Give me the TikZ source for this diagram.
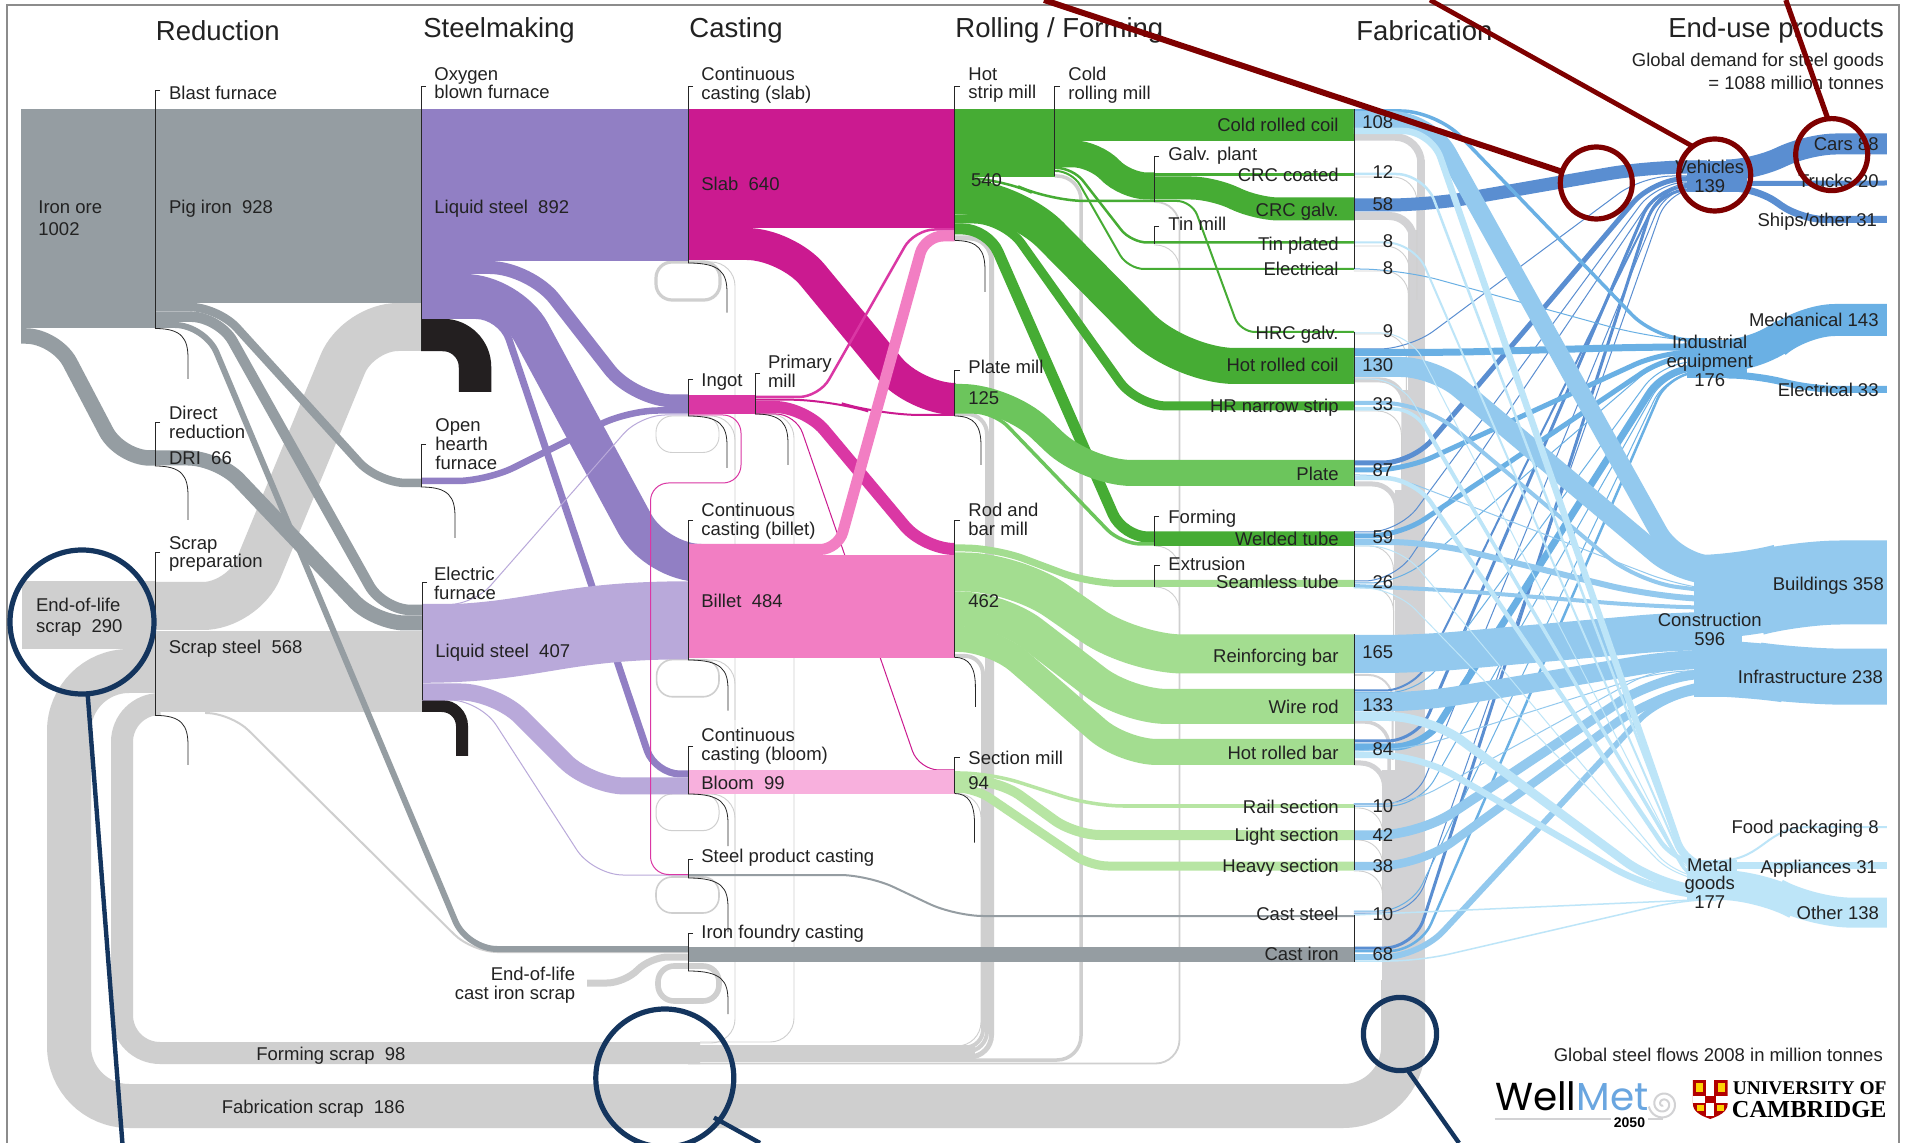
\documentclass[tikz,border=0pt]{standalone}
\usepackage{fontspec}
\setmainfont{Liberation Sans}
\newfontfamily\wmfont{Poppins}
\newfontfamily\camfont{Liberation Serif}
\definecolor{frm}{HTML}{8C8C8C}
\definecolor{gy}{HTML}{959DA2}
\definecolor{scr}{HTML}{CFCFCF}
\definecolor{vrt}{HTML}{D2D2D4}
\definecolor{pu}{HTML}{917FC4}
\definecolor{lpu}{HTML}{B9A9DA}
\definecolor{slb}{HTML}{CB1A90}
\definecolor{ing}{HTML}{DA37A4}
\definecolor{bil}{HTML}{F27EC3}
\definecolor{blm}{HTML}{F8B0DD}
\definecolor{hot}{HTML}{46AC34}
\definecolor{plt}{HTML}{6CC55C}
\definecolor{rod}{HTML}{A3DD90}
\definecolor{sec}{HTML}{B7E5A3}
\definecolor{vc}{HTML}{5A8ED1}
\definecolor{ic}{HTML}{6AB0E4}
\definecolor{cc}{HTML}{93C9EE}
\definecolor{mc}{HTML}{BDE5F8}
\definecolor{blk}{HTML}{231F20}
\definecolor{txt}{HTML}{222222}
\definecolor{redc}{HTML}{7E0000}
\definecolor{nav}{HTML}{14355E}
\newcommand\sstr{\rule[-1.9pt]{0pt}{7.5pt}}
\newcommand\Fl[4]{\draw[draw=#1,line width=#2*0.5pt,rounded corners=#3*0.5pt] #4;}
\newcommand\Bk[3]{\fill[#1] #2 rectangle #3;}
\newcommand\Br[3]{\draw[brk] (#1+5,#2)--(#1,#2)--(#1,#3);}
\newcommand\Cv[4]{\draw[brk] (#1,#2) .. controls (#3-6,#2) and (#3,#2+10) .. (#3,#2+30) -- (#3,#4);}
\newcommand\Lw[4]{\node[lbl,anchor=west,align=left] (#1) at (#2,#3) {#4};}
\newcommand\Le[4]{\node[lbl,anchor=east,align=right] (#1) at (#2,#3) {#4};}
\newcommand\Lc[4]{\node[lbl,anchor=center,align=center] (#1) at (#2,#3) {#4};}
\newcommand\Ti[3]{\node[ttl,anchor=west] (#1) at (#2,30.5) {#3};}
\begin{document}
\begin{tikzpicture}[x=0.5pt,y=-0.5pt,
  brk/.style={draw=black!85,line width=0.4pt},
  lbl/.style={inner sep=0pt,text=txt,yshift=-1.0pt,font=\fontsize{9.25}{9.4}\selectfont},
  ttl/.style={inner sep=0pt,text=txt,font=\fontsize{13.75}{16}\selectfont},
  loopbox/.style={draw=scr,rounded corners=8pt},
  thinscr/.style={draw=scr,line width=0.45pt,rounded corners=12pt},
  rightpart/.style={xshift=5.83pt,xscale=0.9913}]
\useasboundingbox (0,0) rectangle (1906,1143);
\clip (0,0) rectangle (1906,1143);
\fill[white] (0,0) rectangle (1906,1143);
% frame
\draw[frm,line width=1.2pt] (6.7,1143)--(6.7,5)--(1899,5)--(1899,1143);
% --- scrap streams
\Fl{scr}{44}{60}{(155,671)--(69,671)--(69,1106)--(1403.2,1106)--(1403.2,980)}
\Fl{scr}{22}{38}{(155,704)--(122,704)--(122,1053)--(700,1053)}
\Bk{scr}{(688,1044.7)}{(975,1059)}
\begin{scope}[rightpart]
\Bk{vrt}{(1382,770)}{(1425.6,990)}
\Bk{vrt}{(1395,490)}{(1425.6,780)}
\Bk{vrt}{(1403.7,390)}{(1425.6,500)}
\Bk{vrt}{(1409,230)}{(1425.6,400)}
\Bk{vrt}{(1418,160)}{(1425.6,240)}
\Fl{vrt}{7.5}{26}{(1354,137)--(1421.8,137)--(1421.8,300)}
\Fl{vrt}{8}{24}{(1354,216)--(1414,216)--(1414,300)}
\Fl{vrt}{5}{24}{(1354,380)--(1404.5,380)--(1404.5,500)}
\Fl{vrt}{5}{24}{(1354,484)--(1397,484)--(1397,600)}
\Fl{vrt}{2}{24}{(1354,675)--(1393,675)--(1393,760)}
\Fl{vrt}{3.5}{24}{(1354,722)--(1389.5,722)--(1389.5,800)}
\Fl{vrt}{5}{24}{(1354,763)--(1385,763)--(1385,850)}
\draw[thinscr] (1354,177)--(1417.5,177)--(1417.5,300);
\draw[thinscr] (1354,246)--(1410,246)--(1410,320);
\draw[thinscr] (1354,271)--(1409,271)--(1409,340);
\draw[thinscr] (1354,334)--(1407,334)--(1407,400);
\draw[thinscr] (1354,411)--(1402,411)--(1402,480);
\draw[thinscr] (1354,546)--(1394,546)--(1394,620);
\draw[thinscr] (1354,587)--(1394,587)--(1394,660);
\draw[thinscr] (1354,808)--(1383,808)--(1383,860);
\draw[thinscr] (1354,840)--(1383,840)--(1383,890);
\draw[thinscr] (1354,871)--(1383,871)--(1383,920);
\end{scope}
% rolling scrap verticals
\Fl{scr}{5}{22}{(954.5,238)--(991.5,238)--(991.5,1057)--(688,1057)}
\Fl{scr}{4}{20}{(954.5,414)--(987,414)--(987,1051.5)--(688,1051.5)}
\Fl{scr}{4}{18}{(954.5,656)--(983,656)--(983,1047.5)--(688,1047.5)}
\draw[thinscr] (954.5,793.5)--(981,793.5)--(981,1046)--(688,1046);
\Fl{scr}{3.5}{24}{(1054.6,176)--(1081,176)--(1081,1060)--(688,1060)}
\draw[thinscr,line width=0.9pt] (1154,202)--(1179.5,202)--(1179.5,1063.5)--(688,1063.5);
\draw[thinscr] (1154,245)--(1179.5,245)--(1179.5,300);
\draw[thinscr] (1154,546)--(1179.5,546)--(1179.5,620);
\draw[thinscr] (1154,587)--(1179.5,587)--(1179.5,660);
% casting scrap lines
\draw[thinscr] (688,262)--(735,262)--(735,1043)--(688,1043);
\draw[thinscr] (688,660)--(735,660)--(735,720);
\draw[thinscr] (688,794)--(735,794)--(735,850);
\draw[thinscr] (688,416)--(735,416)--(735,470);
\draw[thinscr] (755,414)--(794,414)--(794,1042)--(700,1042);
% loops
\draw[loopbox,line width=1.6pt] (656,262) rectangle (720,300);
\draw[loopbox,line width=0.45pt] (656,416) rectangle (719,452.5);
\draw[loopbox,line width=0.8pt] (656.6,659.6) rectangle (719,696.8);
\draw[loopbox,line width=0.5pt] (656,794) rectangle (719,830.6);
\draw[loopbox,line width=0.8pt] (656,877) rectangle (719,913);
\draw[loopbox,line width=2.8pt] (658,966) rectangle (719,1001);
% scrap preparation
\Bk{scr}{(22,581)}{(155,649)}
\Bk{scr}{(155,630.6)}{(422,712)}
\Fl{scr}{48}{40}{(120,606)--(243,606)--(358,327)--(421,327)}
\Fl{scr}{7}{18}{(587,983)--(625,983)--(650,957)--(688,957)}
\Fl{scr}{2}{25}{(205,713)--(231,713)--(472,952)--(688,952)}
% --- reduction
\Bk{gy}{(21,109)}{(155,328.5)}
\Bk{gy}{(155,109)}{(421,303)}
\Fl{gy}{15.5}{30}{(21,336)--(56,336)--(120,458)--(155,458)}
\Fl{gy}{8.5}{28}{(155,307)--(218,307)--(378,483)--(421,483)}
\Fl{gy}{10.5}{28}{(155,316.7)--(219,316.7)--(383,610)--(422,610)}
\Fl{gy}{6}{30}{(155,325)--(205,325)--(467,949)--(688,949)}
\Fl{gy}{15}{30}{(155,458)--(218,458)--(375,623)--(422,623)}
\Fl{gy}{2}{28}{(688,875)--(868,875)--(955,916)--(1354,916)}
% --- steelmaking
\Bk{pu}{(421,109)}{(688,261)}
\Fl{blk}{32.5}{32}{(421,335)--(475,335)--(475,392)}
\Fl{blk}{12}{20}{(422,706)--(462,706)--(462,756)}
\Fl{pu}{13}{40}{(421,267.5)--(530,267.5)--(634,401)--(688,401)}
\Fl{pu}{38}{45}{(421,293)--(510,293)--(656,563)--(688,563)}
\Fl{pu}{7}{25}{(421,315.5)--(501,315.5)--(655,774)--(688,774)}
\Fl{pu}{6.5}{30}{(421,481)--(487,481)--(628,410.5)--(688,410.5)}
\draw[lpu,line width=39pt] (422,643.8) .. controls (535,643.8) and (555,620.3) .. (688,620.3);
\Fl{lpu}{17}{35}{(422,692)--(496,692)--(590,786)--(688,786)}
\Fl{lpu}{1}{25}{(422,604.5)--(474,604.5)--(640,415)--(688,415)}
\Fl{lpu}{1}{30}{(422,700)--(480,700)--(593,875)--(688,875)}
% --- casting
\Bk{slb}{(688,109)}{(954.5,228)}
\Fl{slb}{32}{40}{(688,244)--(787,244)--(915,399)--(954.5,399)}
\Bk{ing}{(688,395)}{(755,414.5)}
\Fl{slb}{2}{40}{(755,399.7)--(830,399.7)--(880,415)--(954.5,415)}
\Fl{ing}{12}{30}{(755,407)--(805,407)--(924,549)--(954.5,549)}
\Fl{ing}{2.5}{20}{(755,397)--(819,397)--(914.5,229.5)--(954.5,229.5)}
\Fl{ing}{1}{18}{(688,415)--(741,415)--(741,483)--(650.5,483)--(650.5,874.5)--(688,874.5)}
\Fl{slb}{1}{20}{(755,414)--(796,414)--(919,770)--(954.5,770)}
\Bk{bil}{(688,555)}{(954.5,658)}
\Fl{bil}{11}{18}{(688,549.5)--(838,549.5)--(925,236)--(954.5,236)}
\Bk{blm}{(688,770)}{(954.5,794)}
\Bk{gy}{(688,946.6)}{(1354,962)}
% --- rolling
\Bk{hot}{(954.5,109)}{(1054.6,177)}
\Bk{hot}{(1054.6,109)}{(1354,140.6)}
\Fl{hot}{27}{22}{(1054.6,153.8)--(1095,153.8)--(1125,186)--(1154,186)}
\Fl{hot}{3.5}{10}{(1154,174.5)--(1354,174.5)}
\Fl{hot}{23}{24}{(1150,188)--(1215,188)--(1255,209)--(1354,209)}
\Fl{hot}{2.5}{16}{(1054.6,168)--(1073,168)--(1131,242.5)--(1354,242.5)}
\Fl{hot}{2}{16}{(1054.6,171)--(1072,171)--(1128,269)--(1354,269)}
\Fl{hot}{2.5}{35}{(954.5,178)--(1000,178)--(1050,201)--(1154,201)}
\Fl{hot}{2}{15}{(1154,201)--(1192,201)--(1240,332)--(1354,332)}
\Fl{hot}{36}{55}{(954.5,196)--(1012,196)--(1180,366)--(1354,366)}
\Fl{hot}{9}{30}{(954.5,219)--(1004,219)--(1137,406)--(1354,406)}
\Fl{hot}{11}{25}{(954.5,229)--(988,229)--(1123,537)--(1354,537)}
\Bk{hot}{(1154,531.6)}{(1354,546)}
\Fl{plt}{26}{45}{(954.5,397)--(1007,397)--(1087,473)--(1354,473)}
\Fl{plt}{3.5}{20}{(954.5,412)--(994,412)--(1121,544)--(1154,544)}
\Fl{rod}{7}{30}{(954.5,548)--(995,548)--(1090,583.5)--(1354,583.5)}
\Fl{rod}{39}{50}{(954.5,572)--(1015,572)--(1133,654)--(1354,654)}
\Fl{rod}{35}{40}{(954.5,609)--(1000,609)--(1127,706.5)--(1354,706.5)}
\Fl{rod}{26}{34}{(954.5,639)--(993,639)--(1123,752)--(1354,752)}
\Bk{sec}{(954.5,772)}{(972,793.5)}
\Fl{sec}{3.5}{30}{(954.5,773)--(990,773)--(1093,806)--(1354,806)}
\Fl{sec}{10}{25}{(954.5,781)--(1000,781)--(1075,835)--(1354,835)}
\Fl{sec}{9}{18}{(954.5,788)--(975,788)--(1090,866)--(1354,866)}
\begin{scope}[rightpart]
% --- vehicles
\Fl{vc}{13}{40}{(1354,205)--(1430,205)--(1650,167)--(1710,167)}
\Fl{vc}{1}{30}{(1354,349)--(1410,349)--(1645,176)--(1710,176)}
\Fl{vc}{5}{30}{(1354,463)--(1413,463)--(1655,180)--(1710,178)}
\Fl{vc}{1}{30}{(1354,532)--(1400,532)--(1660,182)--(1710,182)}
\Fl{vc}{1}{30}{(1354,581)--(1395,581)--(1665,183)--(1710,183)}
\Fl{vc}{2}{30}{(1354,690.5)--(1415,690.5)--(1667,184)--(1710,184)}
\Fl{vc}{3}{30}{(1354,741)--(1418,741)--(1658,187)--(1710,187)}
\Fl{vc}{1}{30}{(1354,804)--(1415,804)--(1670,186)--(1710,186)}
\Fl{vc}{1}{30}{(1354,913)--(1415,913)--(1672,188)--(1710,188)}
\Fl{vc}{3}{30}{(1354,948)--(1415,948)--(1660,190)--(1710,190)}
\Bk{vc}{(1690,161)}{(1751,192)}
\Fl{vc}{21}{30}{(1740,170)--(1760,170)--(1810,144)--(1891.7,144)}
\Fl{vc}{5}{5}{(1740,183.5)--(1891.7,183)}
\Fl{vc}{7}{24}{(1740,188)--(1760,188)--(1805,219.5)--(1891.7,219.5)}
% --- industrial
\Fl{ic}{3.5}{35}{(1354,111)--(1437,111)--(1659,340)--(1710,340)}
\Fl{ic}{1}{40}{(1354,269)--(1400,269)--(1650,337)--(1710,342)}
\Fl{ic}{7}{40}{(1354,352.5)--(1450,352.5)--(1650,347)--(1710,347)}
\Fl{ic}{5}{30}{(1354,470)--(1405,470)--(1665,352)--(1710,352)}
\Fl{ic}{5}{30}{(1354,536)--(1400,536)--(1670,356)--(1710,354)}
\Fl{ic}{1}{30}{(1354,583)--(1400,583)--(1665,358)--(1710,358)}
\Fl{ic}{1}{30}{(1354,692.5)--(1420,692.5)--(1665,362)--(1710,362)}
\Fl{ic}{7}{30}{(1354,747)--(1425,747)--(1668,368)--(1710,368)}
\Fl{ic}{1}{30}{(1354,806)--(1420,806)--(1670,370)--(1710,370)}
\Fl{ic}{1}{30}{(1354,911)--(1410,911)--(1670,373)--(1710,373)}
\Fl{ic}{2.5}{30}{(1354,951)--(1420,951)--(1672,372)--(1710,372)}
\Bk{ic}{(1690,340)}{(1751,378)}
\Fl{ic}{32}{34}{(1730,355)--(1765,355)--(1805,320)--(1891.7,320)}
\Fl{ic}{7}{28}{(1730,375)--(1760,375)--(1815,389.5)--(1891.7,389.5)}
% --- construction
\Bk{cc}{(1697,555)}{(1745,697)}
\Fl{cc}{84}{44}{(1700,597)--(1745,597)--(1800,582.5)--(1891.7,582.5)}
\Fl{cc}{56}{44}{(1700,668)--(1745,668)--(1805,676.7)--(1891.7,676.7)}
\Fl{cc}{18}{38}{(1354,120)--(1430,120)--(1680,565)--(1720,565)}
\Fl{cc}{20}{33}{(1354,367)--(1435,367)--(1685,575)--(1720,575)}
\Fl{cc}{4}{40}{(1354,403)--(1425,403)--(1640,582)--(1720,592)}
\Fl{cc}{1}{30}{(1354,475)--(1390,475)--(1680,585)--(1720,590)}
\Fl{cc}{6}{40}{(1354,542)--(1430,542)--(1650,595)--(1720,600)}
\Fl{cc}{4}{40}{(1354,586)--(1450,590)--(1650,606)--(1720,608)}
\Fl{cc}{38}{38}{(1354,654)--(1420,654)--(1680,631)--(1720,631)}
\Fl{cc}{19}{38}{(1354,702)--(1420,702)--(1680,659)--(1720,659)}
\Fl{cc}{1}{30}{(1354,751)--(1416,748)--(1660,672)--(1720,670)}
\Fl{cc}{1}{30}{(1354,804)--(1410,804)--(1660,668)--(1720,668)}
\Fl{cc}{9.5}{40}{(1354,835)--(1420,835)--(1655,680)--(1720,672)}
\Fl{cc}{8.5}{40}{(1354,866)--(1420,866)--(1650,700)--(1720,682)}
\Fl{cc}{6}{35}{(1354,957)--(1420,957)--(1665,695)--(1720,690)}
% --- metal goods
\Bk{mc}{(1690,860)}{(1740,900)}
\draw[mc,line width=1pt] (1725,861) .. controls (1768,858) and (1770,827) .. (1813,827) -- (1891.7,827);
\Fl{mc}{7}{5}{(1730,865.5)--(1891.7,865.5)}
\Fl{mc}{30}{40}{(1720,885)--(1765,885)--(1815,912.6)--(1891.7,912.6)}
\Fl{mc}{6.5}{28}{(1354,131)--(1432,131)--(1690,868)--(1720,868)}
\Fl{mc}{2.5}{28}{(1354,174)--(1425,174)--(1690,870)--(1720,870)}
\Fl{mc}{2}{28}{(1354,242.5)--(1415,242.5)--(1690,872)--(1720,872)}
\Fl{mc}{1}{28}{(1354,333)--(1410,333)--(1690,875)--(1720,875)}
\Fl{mc}{1}{28}{(1354,379)--(1400,379)--(1690,876)--(1720,876)}
\Fl{mc}{3.5}{20}{(1354,409)--(1415,409)--(1695,882)--(1720,882)}
\Fl{mc}{4.5}{30}{(1354,478)--(1415,478)--(1680,866)--(1720,866)}
\Fl{mc}{1}{30}{(1354,546)--(1400,546)--(1680,878)--(1720,878)}
\Fl{mc}{1}{30}{(1354,588)--(1395,588)--(1680,880)--(1720,880)}
\Fl{mc}{9}{40}{(1354,716.5)--(1430,716.5)--(1660,885)--(1720,892)}
\Fl{mc}{6.5}{40}{(1354,755)--(1420,755)--(1650,888)--(1720,898)}
\Fl{mc}{1.5}{5}{(1354,915)--(1720,899)}
\Fl{mc}{1.5}{30}{(1354,961)--(1420,961)--(1686,900)--(1720,899)}
\end{scope}
% --- brackets
\Br{155}{90.6}{328.5}\Cv{155}{328.5}{188}{379}
\Br{155}{422.5}{466}\Cv{155}{466}{188}{520}
\Br{155}{552}{715.4}\Cv{155}{715.4}{188}{765}
\Br{421}{86}{351}
\Br{421}{444}{487}\Cv{421}{487}{455}{538}
\Br{422}{582}{700}
\Br{688}{86}{263}\Cv{688}{263}{727}{312.6}
\Br{688}{379}{416}\Cv{688}{416}{727}{468}
\Br{688}{520}{660}\Cv{688}{660}{728}{710.6}
\Br{688}{746}{794}\Cv{688}{794}{728}{846}
\Br{688}{859}{878}\Cv{688}{878}{728}{932}
\Br{688}{933}{971}\Cv{688}{971}{728}{1014}
\Br{755}{373}{414}\Cv{755}{414}{788}{465}
\Br{954.5}{86}{240.5}\Cv{954.5}{240.5}{985}{292}
\Br{1054.6}{86}{176}
\Br{954.5}{370}{416}\Cv{954.5}{416}{981}{465}
\Br{954.5}{520}{657.4}\Cv{954.5}{657.4}{975.4}{707}
\Br{954.5}{757}{793.5}\Cv{954.5}{793.5}{974.5}{842.5}
\Br{1154}{156.5}{201.6}
\Br{1154}{226.4}{244}
\Br{1154}{516}{545.7}
\Br{1154.8}{565.6}{586.8}
\draw[brk] (1354,109)--(1354,269);
\draw[brk] (1354,332)--(1354,486);
\draw[brk] (1354,531)--(1354,587);
\draw[brk] (1354,634)--(1354,765);
\draw[brk] (1354,805)--(1354,870);
\draw[brk] (1354,915)--(1354,962);
% --- titles
\Ti{tred}{155.5}{Reduction}
\Ti{tste}{423}{Steelmaking}
\Ti{tcas}{689}{Casting}
\Ti{trol}{955}{Rolling / Forming}
\Ti{tfab}{1356}{Fabrication}
% --- left labels
\Lw{lbf}{168.7}{92.5}{\sstr Blast furnace}
\Lw{lore}{38}{218}{\sstr Iron ore\\[1.3pt]\sstr 1002}
\Lw{lpig}{168.7}{207}{\sstr Pig iron\ \ 928}
\Lw{ldr}{168.7}{422}{\sstr Direct\\\sstr reduction}
\Lw{ldri}{168.7}{458}{\sstr DRI\ \ 66}
\Lw{lsp}{168.7}{552}{\sstr Scrap\\\sstr preparation}
\Lw{leol}{35.7}{615}{\sstr End-of-life\\[1.3pt]\sstr scrap\ \ 290}
\Lw{lss}{168.4}{646.6}{\sstr Scrap steel\ \ 568}
\Lw{lobf}{434}{83}{\sstr Oxygen\\\sstr blown furnace}
\Lw{lls}{434}{207}{\sstr Liquid steel\ \ 892}
\Lw{loh}{435}{444}{\sstr Open\\\sstr hearth\\\sstr furnace}
\Lw{lef}{433.7}{583}{\sstr Electric\\\sstr furnace}
\Lw{lls2}{435}{650.7}{\sstr Liquid steel\ \ 407}
\Lw{lfs}{256}{1053.7}{\sstr Forming scrap\ \ 98}
\Lw{lfabs}{221.4}{1106.5}{\sstr Fabrication scrap\ \ 186}
\Le{lcis}{575.5}{983.5}{\sstr End-of-life\\\sstr cast iron scrap}
\Lw{lccs}{701}{83}{\sstr Continuous\\\sstr casting (slab)}
\Lw{lslab}{701}{184}{\sstr Slab\ \ 640}
\Lw{ling}{701}{380}{\sstr Ingot}
\Lw{lpm}{767.6}{371}{\sstr Primary\\\sstr mill}
\Lw{lccb}{701}{519}{\sstr Continuous\\\sstr casting (billet)}
\Lw{lbil}{701}{601}{\sstr Billet\ \ 484}
\Lw{lccbl}{701}{744}{\sstr Continuous\\\sstr casting (bloom)}
\Lw{lblm}{701}{783}{\sstr Bloom\ \ 99}
\Lw{lspc}{701}{856}{\sstr Steel product casting}
\Lw{lifc}{701}{931.7}{\sstr Iron foundry casting}
\Lw{lhsm}{968}{83}{\sstr Hot\\\sstr strip mill}
\Lw{lcrm}{1068}{83}{\sstr Cold\\\sstr rolling mill}
\Lw{l540}{970.6}{180}{\sstr 540}
\Lw{lplm}{968}{367}{\sstr Plate mill}
\Lw{l125}{968}{397.7}{\sstr 125}
\Lw{lrbm}{968}{519}{\sstr Rod and\\\sstr bar mill}
\Lw{l462}{968}{601}{\sstr 462}
\Lw{lsm}{968}{757.8}{\sstr Section mill}
\Lw{l94}{968}{783}{\sstr 94}
\Lw{lgp}{1168}{154}{\sstr Galv. plant}
\Lw{ltm}{1168}{223.8}{\sstr Tin mill}
\Lw{lform}{1168}{516.8}{\sstr Forming}
\Lw{lext}{1168}{564}{\sstr Extrusion}
% --- fabrication labels
\Le{f1}{1339}{125}{\sstr Cold rolled coil}
\Le{f2}{1339}{174.6}{\sstr CRC coated}
\Le{f3}{1339}{209.6}{\sstr CRC galv.}
\Le{f4}{1339}{243.8}{\sstr Tin plated}
\Le{f5}{1339}{268.6}{\sstr Electrical}
\Le{f6}{1339}{332.5}{\sstr HRC galv.}
\Le{f7}{1339}{365}{\sstr Hot rolled coil}
\Le{f8}{1339}{406}{\sstr HR narrow strip}
\Le{f9}{1339}{474}{\sstr Plate}
\Le{f10}{1339}{538.7}{\sstr Welded tube}
\Le{f11}{1339}{582}{\sstr Seamless tube}
\Le{f12}{1339}{655.5}{\sstr Reinforcing bar}
\Le{f13}{1339}{707}{\sstr Wire rod}
\Le{f14}{1339}{752.7}{\sstr Hot rolled bar}
\Le{f15}{1339}{806.5}{\sstr Rail section}
\Le{f16}{1339}{835}{\sstr Light section}
\Le{f17}{1339}{866}{\sstr Heavy section}
\Le{f18}{1339}{913.5}{\sstr Cast steel}
\Le{f19}{1339}{953.5}{\sstr Cast iron}
\begin{scope}[rightpart]
\node[ttl,anchor=east] (tend) at (1889,30.5) {End-use products};
\Le{lgl}{1889}{71}{\sstr Global demand for steel goods\\[2.1pt]\sstr = 1088 million tonnes}
\Le{n1}{1394}{122}{\sstr 108}
\Le{n2}{1394}{172}{\sstr 12}
\Le{n3}{1394}{204}{\sstr 58}
\Le{n4}{1394}{241}{\sstr 8}
\Le{n5}{1394}{268}{\sstr 8}
\Le{n6}{1394}{331}{\sstr 9}
\Le{n7}{1394}{365}{\sstr 130}
\Le{n8}{1394}{404}{\sstr 33}
\Le{n9}{1394}{470}{\sstr 87}
\Le{n10}{1394}{537}{\sstr 59}
\Le{n11}{1394}{582}{\sstr 26}
\Le{n12}{1394}{652}{\sstr 165}
\Le{n13}{1394}{705}{\sstr 133}
\Le{n14}{1394}{748.5}{\sstr 84}
\Le{n15}{1394}{806}{\sstr 10}
\Le{n16}{1394}{834.7}{\sstr 42}
\Le{n17}{1394}{866}{\sstr 38}
\Le{n18}{1394}{914}{\sstr 10}
\Le{n19}{1394}{954}{\sstr 68}
% --- node labels
\Lc{cv}{1713}{176.5}{\sstr Vehicles\\\sstr 139}
\Lc{ci}{1713}{361}{\sstr Industrial\\\sstr equipment\\\sstr 176}
\Lc{cc1}{1713}{629}{\sstr Construction\\\sstr 596}
\Lc{cm}{1713}{883}{\sstr Metal\\\sstr goods\\\sstr 177}
\Le{e1}{1883.7}{144}{\sstr Cars 88}
\Le{e2}{1883.7}{181}{\sstr Trucks 20}
\Le{e3}{1882}{219.4}{\sstr Ships/other 31}
\Le{e4}{1883.7}{319.3}{\sstr Mechanical 143}
\Le{e5}{1883.7}{389.6}{\sstr Electrical 33}
\Le{e6}{1889}{583.4}{\sstr Buildings 358}
\Le{e7}{1888}{676.4}{\sstr Infrastructure 238}
\Le{e8}{1883.7}{826.5}{\sstr Food packaging 8}
\Le{e9}{1882}{867}{\sstr Appliances 31}
\Le{e10}{1884}{913}{\sstr Other 138}
\Le{egf}{1888}{1054.4}{\sstr Global steel flows 2008 in million tonnes}
% --- logos
\node[inner sep=0pt,anchor=base west,font=\wmfont\fontsize{19.5}{20}\selectfont] (wm) at (1496,1110) {\textcolor{black}{Well}\textcolor[HTML]{6AA6E0}{Met}};
\draw[vrt,line width=1pt] (1496,1119)--(1613,1119);
\draw[vrt,line width=1pt] (1651,1119)--(1666,1119);
\draw[vrt,line width=1pt] plot[domain=0:800,samples=70] ({1666+(1.5+0.0165*\x)*cos(\x+90)},{1104+(1.5+0.0165*\x)*sin(\x+90)});
\node[inner sep=0pt,anchor=center,font=\bfseries\fontsize{7}{8}\selectfont] (y2050) at (1632,1122.5) {2050};
\fill[red!70!black] (1696,1080)--(1731,1080)--(1731,1104) .. controls (1731,1112) and (1722,1116) .. (1713.5,1119) .. controls (1705,1116) and (1696,1112) .. (1696,1104) --cycle;
\fill[white] (1709.5,1080) rectangle (1717.5,1116);
\fill[white] (1696,1096) rectangle (1731,1103);
\fill[red!70!black] (1708,1096) rectangle (1719,1103);
\fill[yellow!70!orange] (1699,1083) rectangle (1706,1092);
\fill[yellow!70!orange] (1721,1083) rectangle (1728,1092);
\fill[yellow!70!orange] (1700,1105) rectangle (1707,1111);
\fill[yellow!70!orange] (1720,1105) rectangle (1727,1111);
\node[inner sep=0pt,anchor=east,font=\camfont\bfseries\fontsize{9.7}{10}\selectfont] (cam1) at (1891.7,1088) {UNIVERSITY OF};
\node[inner sep=0pt,anchor=east,font=\camfont\bfseries\fontsize{12.2}{13}\selectfont] (cam2) at (1891.7,1109.5) {CAMBRIDGE};
\end{scope}
% --- circles
\draw[redc,line width=3pt] (1044,0)--(1563.8,172.4);
\draw[redc,line width=2.4pt] (1430,0)--(1692,146);
\draw[redc,line width=2.6pt] (1785.8,0)--(1827.4,117.6);
\draw[redc,line width=2.6pt] (1596.3,183) circle[radius=36];
\draw[redc,line width=2.6pt] (1714.7,175) circle[radius=36];
\draw[redc,line width=2.6pt] (1831.7,154.6) circle[radius=36];
\draw[nav,line width=2.6pt] (82,622) circle[radius=72];
\draw[nav,line width=2.2pt] (87.7,694.6)--(122.4,1143);
\draw[nav,line width=2.6pt] (664.8,1078) circle[radius=69];
\draw[nav,line width=2.2pt] (714,1117.6)--(760,1143);
\draw[nav,line width=2.6pt] (1400,1034) circle[radius=36.6];
\draw[nav,line width=2.2pt] (1406.8,1069)--(1459,1143);
\end{tikzpicture}
\end{document}
